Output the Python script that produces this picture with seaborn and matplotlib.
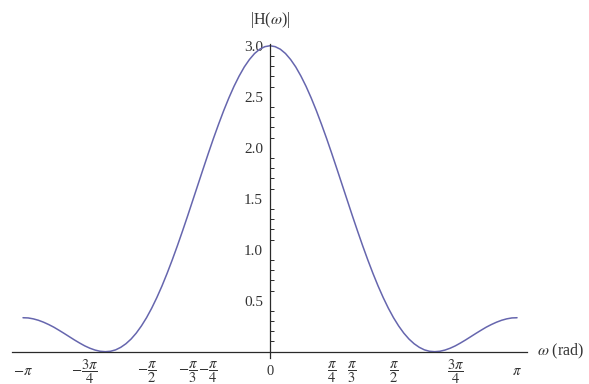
import matplotlib
matplotlib.use('Agg')
import numpy as np
import matplotlib.pyplot as plt
import seaborn as sns

# ---- data ----
omega_over_pi = [k / 48 for k in range(-48, 49)]
magnitude = [0.333, 0.331, 0.322, 0.308, 0.289, 0.266, 0.240, 0.210, 0.179,
             0.147, 0.115, 0.085, 0.057, 0.034, 0.016, 0.004, 0.000, 0.004,
             0.018, 0.043, 0.078, 0.124, 0.182, 0.252, 0.333, 0.426, 0.530,
             0.644, 0.768, 0.900, 1.039, 1.184, 1.333, 1.486, 1.639, 1.792,
             1.943, 2.090, 2.230, 2.364, 2.488, 2.602, 2.703, 2.792, 2.865,
             2.924, 2.966, 2.991, 3.000,
             2.991, 2.966, 2.924, 2.865, 2.792, 2.703, 2.602, 2.488, 2.364,
             2.230, 2.090, 1.943, 1.792, 1.639, 1.486, 1.333, 1.184, 1.039,
             0.900, 0.768, 0.644, 0.530, 0.426, 0.333, 0.252, 0.182, 0.124,
             0.078, 0.043, 0.018, 0.004, 0.000, 0.004, 0.016, 0.034, 0.057,
             0.085, 0.115, 0.147, 0.179, 0.210, 0.240, 0.266, 0.289, 0.308,
             0.322, 0.331, 0.333]
xtick_over_pi = [-1, -0.75, -0.5, -1 / 3, -0.25, 0, 0.25, 1 / 3, 0.5, 0.75, 1]
xtick_labels = [r'$-\pi$', r'$-\dfrac{3\pi}{4}$', r'$-\dfrac{\pi}{2}$',
                r'$-\dfrac{\pi}{3}$', r'$-\dfrac{\pi}{4}$', '0',
                r'$\dfrac{\pi}{4}$', r'$\dfrac{\pi}{3}$', r'$\dfrac{\pi}{2}$',
                r'$\dfrac{3\pi}{4}$', r'$\pi$']
ytick_values = [0.5, 1.0, 1.5, 2.0, 2.5, 3.0]
ytick_labels = ['0.5', '1.0', '1.5', '2.0', '2.5', '3.0']

sns.set_style('white')
plt.rcParams['font.family'] = ['Liberation Serif', 'DejaVu Serif']
plt.rcParams['mathtext.fontset'] = 'stix'

omega = np.array(omega_over_pi) * np.pi
txt = '#333333'
axc = '#2a2a2a'

fig = plt.figure(figsize=(5.89, 3.84), dpi=100)
ax = fig.add_axes([0.0204, 0.0682, 0.8744, 0.818])
sns.lineplot(x=omega, y=magnitude, ax=ax, color='#6666ae', linewidth=1.1)

ax.set_xlim(-1.0445 * np.pi, 1.0405 * np.pi)
ax.set_ylim(-0.06, 3.02)

for s in ['top', 'right']:
    ax.spines[s].set_visible(False)
ax.spines['left'].set_position(('data', 0))
ax.spines['bottom'].set_position(('data', 0))
for s in ['left', 'bottom']:
    ax.spines[s].set_color(axc)
    ax.spines[s].set_linewidth(0.9)

ax.set_xticks(np.array(xtick_over_pi) * np.pi)
ax.set_xticklabels(xtick_labels, fontsize=10.5, color=txt)
ax.set_yticks(ytick_values)
ax.set_yticklabels(ytick_labels, fontsize=11, color=txt)
ax.set_yticks(np.arange(0.1, 3.0, 0.1), minor=True)

ax.tick_params(axis='x', direction='in', length=5, width=0.8, pad=14.5,
               color=axc)
ax.tick_params(axis='y', which='major', direction='in', length=4.5, width=0.8,
               pad=5, color=axc)
ax.tick_params(axis='y', which='minor', direction='in', length=2.8, width=0.7,
               color=axc, left=True)
for lbl in ax.get_xticklabels():
    lbl.set_verticalalignment('center')

ax.set_xlabel(r'$\omega$ (rad)', fontsize=11.5, color=txt,
              ha='left', va='center')
ax.xaxis.set_label_coords(1.019, 0.0194)
ax.set_ylabel(r'|H($\omega$)|', fontsize=11.5, color=txt, rotation=0,
              ha='center', va='center')
ax.yaxis.set_label_coords(0.501, 1.076)

fig.savefig('out.png', dpi=100)
